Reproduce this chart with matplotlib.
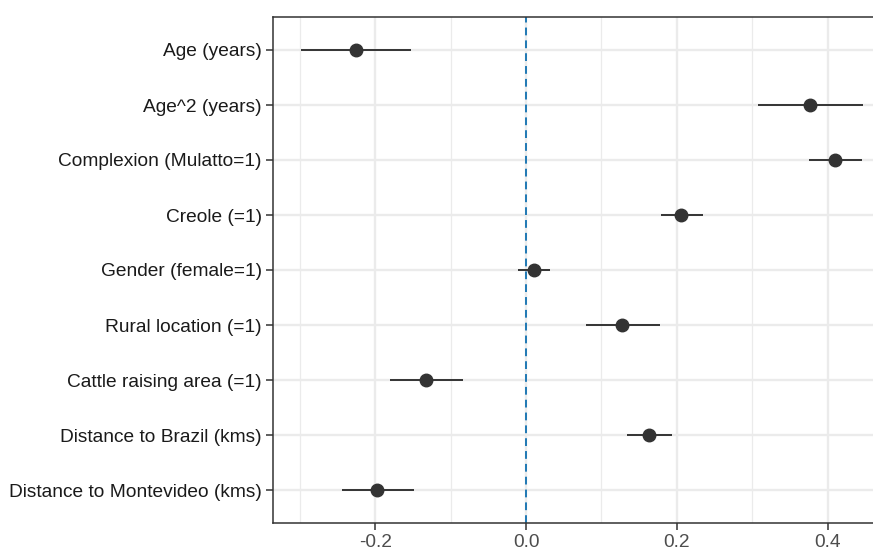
import matplotlib
matplotlib.use("Agg")
import matplotlib.pyplot as plt
import numpy as np

# ---- data ----
labels = [
    "Age (years)",
    "Age^2 (years)",
    "Complexion (Mulatto=1)",
    "Creole (=1)",
    "Gender (female=1)",
    "Rural location (=1)",
    "Cattle raising area (=1)",
    "Distance to Brazil (kms)",
    "Distance to Montevideo (kms)",
]
estimate = [-0.225, 0.377, 0.410, 0.206, 0.010, 0.127, -0.132, 0.163, -0.197]
ci_low = [-0.298, 0.307, 0.375, 0.179, -0.011, 0.079, -0.181, 0.134, -0.244]
ci_high = [-0.153, 0.447, 0.446, 0.234, 0.032, 0.177, -0.083, 0.193, -0.148]

# ---- style ----
INK = "#333333"
GRID = "#EBEBEB"
REF_BLUE = "#1F78B4"
plt.rcParams['font.family'] = ['Liberation Sans', 'DejaVu Sans']

fig = plt.figure(figsize=(8.73, 5.5), dpi=100, facecolor="white")
ax = fig.add_axes([273 / 873, 27 / 550, 1.003 - 273 / 873, 506 / 550])

ypos = np.arange(len(labels))

# grid
for t in [-0.3, -0.1, 0.1, 0.3]:
    ax.axvline(t, color=GRID, lw=0.9, zorder=0)
for t in [-0.2, 0.0, 0.2, 0.4]:
    ax.axvline(t, color=GRID, lw=1.7, zorder=0)
for y in ypos:
    ax.axhline(y, color=GRID, lw=1.7, zorder=0)

ax.axvline(0, color=REF_BLUE, lw=1.4, ls=(0, (4, 2.6)), zorder=1)

ax.hlines(ypos, ci_low, ci_high, color=INK, lw=1.4, zorder=2)
ax.plot(estimate, ypos, 'o', color=INK, markersize=9, zorder=3)

ax.set_xlim(-0.3355, 0.4635)
ax.set_ylim(len(labels) - 1 + 0.6, -0.6)
ax.set_xticks([-0.2, 0.0, 0.2, 0.4])
ax.set_xticklabels(["-0.2", "0.0", "0.2", "0.4"])
ax.set_yticks(ypos)
ax.set_yticklabels(labels)

ax.tick_params(axis='x', colors=INK, labelcolor="#4D4D4D", labelsize=13.8,
               length=5, width=1.1, pad=3)
ax.tick_params(axis='y', colors=INK, labelcolor="#1A1A1A", labelsize=13.8,
               length=5, width=1.1, pad=3)

for s in ax.spines.values():
    s.set_color(INK)
    s.set_linewidth(1.1)

fig.savefig("out.png", dpi=100, facecolor="white")
